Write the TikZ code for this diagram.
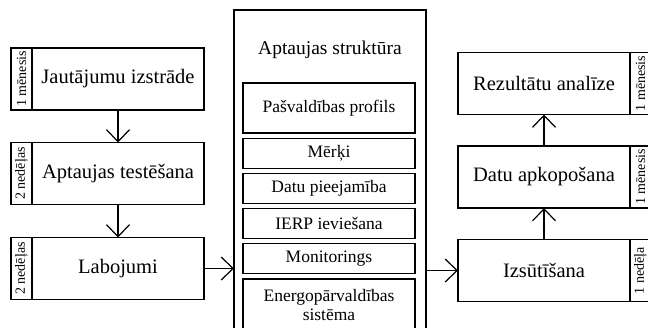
\documentclass[tikz,border=0pt]{standalone}
\usepackage{fontspec}
\setmainfont{Liberation Serif}
\usepackage{tikz}
\usetikzlibrary{arrows.meta,positioning}

\begin{document}
\begin{tikzpicture}[x=1pt,y=-1pt]
    \tikzstyle{stage} = [draw,line width=1.2pt,outer sep=0pt,minimum width=172pt,minimum height=62pt,font=\fontsize{20.5}{22}\selectfont]
    \tikzstyle{period} = [draw,line width=1.2pt,outer sep=0pt,rotate=90,minimum width=62pt,minimum height=21pt,inner sep=0pt,font=\fontsize{14}{15}\selectfont]
    \tikzstyle{part} = [draw,line width=1.2pt,minimum width=172pt,minimum height=30pt,inner sep=0pt,align=center,font=\fontsize{17.5}{19}\selectfont]
    \tikzstyle{flow} = [-{Straight Barb[length=12pt,width=23pt]},line width=1.2pt]
    \useasboundingbox (0,0) rectangle (648,327);

    % left column
    \node[stage] at (118,79) (jaut) {Jautājumu izstrāde};
    \node[stage] at (118,173.5) (test) {Aptaujas testēšana};
    \node[stage] at (118,268.5) (labo) {Labojumi};
    \node[period,anchor=south] at (jaut.west) (jautP) {1 mēnesis};
    \node[period,anchor=south] at (test.west) (testP) {2 nedēļas};
    \node[period,anchor=south] at (labo.west) (laboP) {2 nedēļas};
    \draw[flow] (jaut) -- (test);
    \draw[flow] (test) -- (labo);

    % structure in the middle
    \node[draw,line width=1.2pt,outer sep=0pt,minimum width=192pt,minimum height=335pt] at (330,177.5) (struct) {};
    \node[font=\fontsize{19.5}{21}\selectfont] at (330,50) (title) {Aptaujas struktūra};
    \node[part,minimum height=50pt] at (329,108) (prof) {Pašvaldības profils};
    \node[part,below=4pt of prof] (merki) {Mērķi};
    \node[part,below=4pt of merki] (dati) {Datu pieejamība};
    \node[part,below=4pt of dati] (ierp) {IERP ieviešana};
    \node[part,below=4pt of ierp] (moni) {Monitorings};
    \node[part,minimum height=52pt,below=4pt of moni] (ener) {Energopārvaldības\\sistēma};
    \draw[flow] (labo) -- (labo -| struct.west);

    % right column
    \node[stage] at (544,270.5) (izsut) {Izsūtīšana};
    \node[stage] at (544,177) (apko) {Datu apkopošana};
    \node[stage] at (544,83.5) (rez) {Rezultātu analīze};
    \node[period,anchor=north] at (izsut.east) (izsutP) {1 nedēļa};
    \node[period,anchor=north] at (apko.east) (apkoP) {1 mēnesis};
    \node[period,anchor=north] at (rez.east) (rezP) {1 mēnesis};
    \draw[flow] (izsut -| struct.east) -- (izsut);
    \draw[flow] (izsut) -- (apko);
    \draw[flow] (apko) -- (rez);

\end{tikzpicture}
\end{document}
